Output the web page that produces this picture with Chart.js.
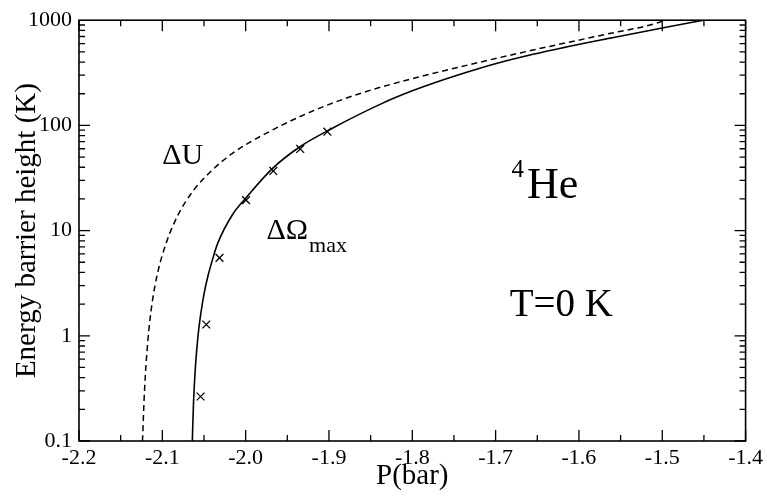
<!DOCTYPE html>
<html>
<head>
<meta charset="utf-8">
<script src="https://cdn.jsdelivr.net/npm/chart.js@4"></script>
<style>
  html, body { margin: 0; padding: 0; background: #fff; }
  #wrap { width: 767px; height: 496px; }
</style>
</head>
<body>
<div id="wrap"><canvas id="barrierChart"></canvas></div>
<script>
// solid curve, Delta Omega max
const omegaP = [-2.064, -2.0625, -2.0601, -2.0571, -2.0536, -2.0497, -2.0454, -2.0400, -2.0338, -2.0155, -1.9995, -1.9677, -1.9357, -1.8959, -1.8361, -1.80, -1.76, -1.72, -1.68, -1.62, -1.56, -1.50, -1.4506];
const omegaE = [0.1, 0.24, 0.53, 1.01, 1.67, 2.56, 3.66, 5.23, 7.48, 14.3, 20.5, 39, 62, 94, 162, 213, 276, 348, 426, 546, 681, 843, 1000];

// dashed curve, Delta U
const uP = [-2.1238, -2.1214, -2.1175, -2.1122, -2.1057, -2.0957, -2.0808, -2.0621, -2.0404, -2.0155, -1.9755, -1.9158, -1.856, -1.7922, -1.7364, -1.6567, -1.577, -1.5032, -1.4975];
const uE = [0.1, 0.299, 0.874, 2.06, 3.93, 7.48, 14.25, 24.4, 37.4, 54.5, 84, 141, 209, 288, 370, 517, 709, 958, 1000];

// crosses
const crossP = [-2.0541, -2.0473, -2.0314, -1.9995, -1.9668, -1.9345, -1.9019];
const crossE = [0.265, 1.28, 5.5, 19.5, 36.9, 59.7, 87.1];

const xTicks = [-2.2, -2.1, -2.0, -1.9, -1.8, -1.7, -1.6, -1.5, -1.4];
const yTicks = [0.1, 1, 10, 100, 1000];

const serif = '"Liberation Serif", "Times New Roman", serif';

function pairs(xs, ys) {
    return xs.map((x, i) => ({ x: x, y: ys[i] }));
}

// frame, inward ticks on all four sides, and the text labels inside the plot
const framePlugin = {
    id: 'frame',
    afterDraw(chart) {
        const ctx = chart.ctx;
        const a = chart.chartArea;
        const xs = chart.scales.x;
        const ys = chart.scales.y;
        ctx.save();
        ctx.strokeStyle = '#000';
        ctx.lineWidth = 1.6;
        ctx.strokeRect(a.left, a.top, a.right - a.left, a.bottom - a.top);

        ctx.lineWidth = 1.3;
        ctx.beginPath();
        // x ticks
        for (let i = 0; i <= 16; i++) {
            const v = -2.2 + i * 0.05;
            const px = xs.getPixelForValue(v);
            const len = i % 2 === 0 ? 11 : 6;
            ctx.moveTo(px, a.bottom); ctx.lineTo(px, a.bottom - len);
            ctx.moveTo(px, a.top); ctx.lineTo(px, a.top + len);
        }
        // y ticks (log)
        for (let d = -1; d < 3; d++) {
            for (let m = 1; m <= 9; m++) {
                const v = m * Math.pow(10, d);
                const py = ys.getPixelForValue(v);
                const len = m === 1 ? 11 : 6;
                ctx.moveTo(a.left, py); ctx.lineTo(a.left + len, py);
                ctx.moveTo(a.right, py); ctx.lineTo(a.right - len, py);
            }
        }
        ctx.stroke();

        ctx.fillStyle = '#000';
        ctx.textBaseline = 'alphabetic';
        ctx.textAlign = 'left';
        const at = (p, e) => [xs.getPixelForValue(p), ys.getPixelForValue(e)];

        let [x1, y1] = at(-2.1, 43);
        ctx.font = '30px ' + serif;
        ctx.fillText('\u0394U', x1, y1);

        let [x2, y2] = at(-1.975, 8.3);
        ctx.font = '30px ' + serif;
        ctx.fillText('\u0394\u03A9', x2, y2);
        const w2 = ctx.measureText('\u0394\u03A9').width;
        ctx.font = '22px ' + serif;
        ctx.fillText('max', x2 + w2 + 1, y2 + 13);

        let [x3, y3] = at(-1.681, 32.5);
        ctx.font = '25px ' + serif;
        ctx.fillText('4', x3, y3);
        const w3 = ctx.measureText('4').width;
        ctx.font = '44px ' + serif;
        ctx.fillText('He', x3 + w3 + 3, y3 + 21);

        let [x4, y4] = at(-1.683, 1.55);
        ctx.font = '39px ' + serif;
        ctx.fillText('T=0 K', x4, y4);
        ctx.restore();
    }
};

const barrierChart = new Chart(document.getElementById('barrierChart'), {
    type: 'scatter',
    data: {
        datasets: [{
            label: '\u0394\u03A9max',
            data: pairs(omegaP, omegaE),
            showLine: true,
            borderColor: '#000',
            borderWidth: 1.6,
            pointRadius: 0,
            cubicInterpolationMode: 'monotone'
        }, {
            label: '\u0394U',
            data: pairs(uP, uE),
            showLine: true,
            borderColor: '#000',
            borderWidth: 1.5,
            borderDash: [6, 4],
            pointRadius: 0,
            cubicInterpolationMode: 'monotone'
        }, {
            label: 'points',
            data: pairs(crossP, crossE),
            showLine: false,
            pointStyle: 'crossRot',
            pointRadius: 5.5,
            borderColor: '#000',
            borderWidth: 1.3
        }]
    },
    plugins: [framePlugin],
    options: {
        responsive: true,
        maintainAspectRatio: false,
        animation: false,
        layout: { padding: { top: 12, right: 19, left: 0, bottom: 0 } },
        plugins: {
            legend: { display: false },
            tooltip: { enabled: false }
        },
        scales: {
            x: {
                type: 'linear',
                min: -2.2,
                max: -1.4,
                grid: { display: false, drawTicks: false },
                border: { display: false },
                afterBuildTicks: (scale) => { scale.ticks = xTicks.map(v => ({ value: v })); },
                afterFit: (scale) => { scale.height = 55; },
                ticks: {
                    color: '#000',
                    padding: 4,
                    maxRotation: 0,
                    autoSkip: false,
                    font: { family: serif, size: 22 },
                    callback: (v) => Number(v).toFixed(1)
                },
                title: {
                    display: true,
                    text: 'P(bar)',
                    color: '#000',
                    padding: { top: 0, bottom: 2 },
                    font: { family: serif, size: 29 }
                }
            },
            y: {
                type: 'logarithmic',
                min: 0.1,
                max: 1000,
                grid: { display: false, drawTicks: false },
                border: { display: false },
                afterBuildTicks: (scale) => { scale.ticks = yTicks.map(v => ({ value: v })); },
                afterFit: (scale) => { scale.width = 79; },
                ticks: {
                    color: '#000',
                    padding: 7,
                    autoSkip: false,
                    font: { family: serif, size: 22 },
                    callback: (v) => String(v)
                },
                title: {
                    display: true,
                    text: 'Energy barrier height (K)',
                    color: '#000',
                    padding: { top: 10, bottom: 0 },
                    font: { family: serif, size: 29 }
                }
            }
        }
    }
});
</script>
</body>
</html>
